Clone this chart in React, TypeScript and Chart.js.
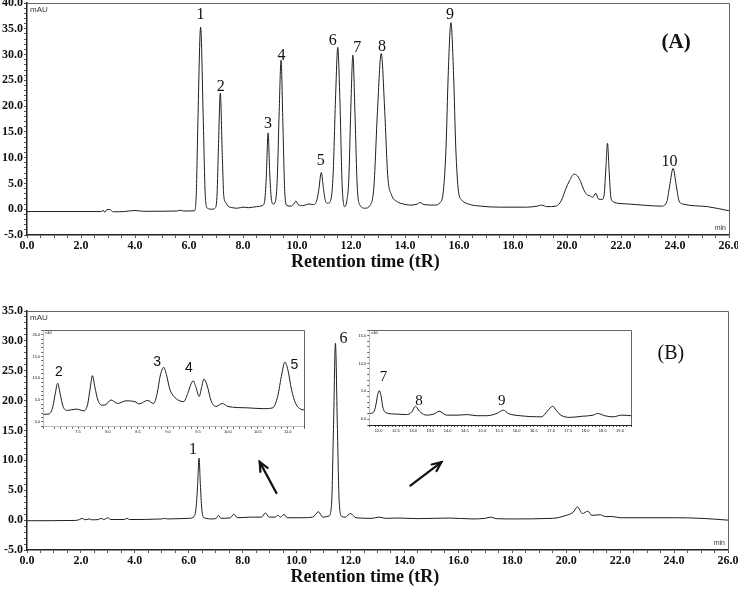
import React, { useEffect, useRef } from 'react';
import { Chart, registerables } from 'chart.js';

Chart.register(...registerables);

// ---------- (A) standard mixture ----------
const timeA = [0, 2.0, 2.75, 2.82, 2.88, 2.95, 3.05, 3.2, 3.6, 4.0, 4.3, 5.55, 5.68, 5.8, 6.2,
  6.27, 6.33, 6.43, 6.53, 6.6, 6.68, 6.85,
  6.98, 7.04, 7.09, 7.16, 7.23, 7.29, 7.36, 7.45, 7.6,
  7.8, 8.0, 8.2, 8.5, 8.72,
  8.8, 8.86, 8.93, 8.99, 9.05, 9.12,
  9.2, 9.27, 9.34, 9.41, 9.48, 9.55, 9.63,
  9.78, 9.88, 9.96, 10.04, 10.2, 10.45, 10.6, 10.72,
  10.8, 10.9, 10.98, 11.06, 11.14,
  11.26, 11.34, 11.43, 11.51, 11.59, 11.67, 11.76,
  11.84, 11.92, 11.99, 12.07, 12.15, 12.23, 12.33, 12.52,
  12.7, 12.85, 12.98, 13.12, 13.25, 13.36, 13.5, 13.7,
  13.95, 14.2, 14.45, 14.56, 14.7, 15.1, 15.3,
  15.42, 15.52, 15.6, 15.7, 15.8, 15.88, 15.98, 16.1, 16.35, 16.8,
  17.5, 18.5, 18.9, 19.06, 19.25, 19.6, 19.8, 19.95, 20.1, 20.26, 20.38, 20.5, 20.62, 20.72, 20.85, 20.95, 21.07, 21.16, 21.3,
  21.38, 21.44, 21.5, 21.56, 21.62, 21.7, 22.0, 22.3, 23.5, 23.7, 23.8, 23.93, 24.05, 24.15, 24.3, 25.2, 26.0];
const signalA = [-0.45, -0.45, -0.45, -0.2, -0.6, -0.1, -0.05, -0.5, -0.45, -0.25, -0.4, -0.35, -0.2, -0.35, -0.3,
  3, 17, 35.3, 17, 3, 0.2, 0.0,
  0.3, 3, 12, 22.5, 11, 2.5, 1.3, 0.6, 0.3,
  0.2, 0.4, 0.3, 0.5, 0.7,
  1.5, 6, 14.8, 7, 2, 1.0,
  1.5, 6, 19, 28.9, 16, 3, 0.7,
  0.6, 1.0, 1.6, 0.9, 0.7, 1.0, 0.9, 1.5,
  3.5, 7.1, 4, 1.5, 1.15,
  2, 7, 22, 31.4, 21, 5, 0.5,
  1.5, 6, 19, 29.9, 18, 4.5, 0.8, 0.2,
  0.7, 4.5, 19, 30.2, 19, 6.5, 2.8, 1.5,
  1.0, 0.8, 1.0, 1.3, 0.9, 0.8, 1.3,
  3.5, 12, 26, 36.2, 26, 12, 3.5, 1.8, 1.0, 0.6,
  0.4, 0.4, 0.6, 0.8, 0.5, 0.6, 1.8, 3.9, 5.6, 6.8, 6.5, 5.4, 3.8, 2.9, 2.6, 2.3, 3.1, 2.0, 1.9,
  3, 8, 12.8, 7.5, 2.5, 1.5, 1.1, 1.0, 0.6, 1.5, 4.5, 7.9, 4.5, 1.6, 1.0, 0.5, -0.3];
const peakNamesA = ['1', '2', '3', '4', '5', '6', '7', '8', '9', '10'];
const peakLabelTimeA = [6.43, 7.18, 8.93, 9.43, 10.88, 11.32, 12.23, 13.15, 15.67, 23.8];
const peakLabelSignalA = [37.7, 23.65, 16.5, 29.7, 9.4, 32.7, 31.3, 31.5, 37.7, 9.2];

// ---------- (B) sample ----------
const timeB = [0, 1.8, 1.95, 2.05, 2.15, 2.3, 2.4, 2.65, 2.75, 2.85, 3.0, 3.1, 3.6, 3.7, 3.8, 5.0, 5.1, 5.2, 6.0,
  6.2, 6.28, 6.33, 6.38, 6.43, 6.48, 6.56,
  6.9, 7.02, 7.1, 7.2, 7.55, 7.67, 7.8, 8.3, 8.7, 8.84, 8.98, 9.2, 9.31, 9.4, 9.53, 9.65, 10.2, 10.6, 10.81, 10.97,
  11.2, 11.3, 11.37, 11.44, 11.51, 11.58, 11.68,
  11.8, 12.0, 12.2, 12.8, 13.05, 13.3, 13.75, 14.5, 15.67, 16.5, 17.0, 17.2, 17.4, 18.0, 19.5,
  20.0, 20.25, 20.42, 20.6, 20.8, 20.95, 21.26, 21.45, 21.7, 22.0, 24.0, 25.0, 26.0];
const signalB = [-0.1, -0.05, 0.1, 0.3, 0.05, 0.2, 0.05, 0.1, 0.3, 0.1, 0.4, 0.1, 0.1, 0.3, 0.1, 0.2, 0.3, 0.2, 0.3,
  0.6, 2.5, 6, 10.4, 6, 2, 0.4,
  0.2, 0.3, 0.8, 0.3, 0.4, 1.0, 0.4, 0.5, 0.5, 1.2, 0.5, 0.5, 0.8, 0.5, 0.95, 0.4, 0.4, 0.5, 1.4, 0.5,
  0.7, 3, 16, 29.6, 16, 3, 0.6,
  0.5, 1.1, 0.4, 0.3, 0.5, 0.3, 0.35, 0.25, 0.35, 0.2, 0.3, 0.5, 0.25, 0.2, 0.3,
  0.8, 1.3, 2.2, 1.1, 1.5, 0.8, 0.9, 0.6, 0.6, 0.4, 0.4, 0.3, 0.0];
const peakNamesB = ['1', '6'];
const peakLabelTimeB = [6.16, 11.74];
const peakLabelSignalB = [11.8, 30.3];
const arrowFromTime = [9.25, 14.22];
const arrowFromSignal = [4.53, 5.78];
const arrowToTime = [8.63, 15.37];
const arrowToSignal = [9.75, 9.69];

// ---------- inset 1 (peaks 2-5 of sample) ----------
const timeInset1 = [6.92, 7.02, 7.08, 7.12, 7.16, 7.2, 7.25, 7.32, 7.47, 7.6, 7.66, 7.7, 7.74, 7.78, 7.83, 7.9, 7.96,
  8.05, 8.16, 8.3, 8.45, 8.52, 8.66, 8.76, 8.82, 8.87, 8.93, 8.98, 9.03, 9.1, 9.18, 9.26, 9.33, 9.38, 9.42, 9.47,
  9.52, 9.56, 9.6, 9.65, 9.72, 9.8, 9.91, 10.0, 10.31, 10.6, 10.75, 10.83, 10.9, 10.95, 11.0, 11.06, 11.13, 11.2, 11.27];
const signalInset1 = [1.7, 1.8, 3.5, 6.5, 8.85, 6.5, 3.5, 2.6, 2.9, 2.5, 4, 7.5, 10.6, 8, 5, 3.8, 3.9,
  5.0, 4.2, 4.8, 4.6, 4.1, 4.9, 4.2, 6.5, 10.5, 12.5, 10.5, 7.5, 5.8, 4.9, 4.6, 6.5, 8.5, 9.4, 7.8,
  5.8, 7.8, 9.8, 8.5, 4.8, 3.5, 4.2, 3.5, 3.2, 3.0, 3.2, 5.8, 11, 13.7, 12, 7.5, 4.2, 3.0, 2.7];
const peakNamesInset1 = ['2', '3', '4', '5'];
const peakLabelTimeInset1 = [7.18, 8.82, 9.35, 11.11];
const peakLabelSignalInset1 = [11.5, 13.7, 12.3, 12.9];

// ---------- inset 2 (peaks 7-9 of sample) ----------
const timeInset2 = [11.73, 11.85, 11.92, 11.97, 12.02, 12.07, 12.12, 12.23, 12.5, 12.81, 12.96, 13.07, 13.16, 13.22,
  13.39, 13.6, 13.76, 13.97, 14.3, 14.57, 14.85, 15.13, 15.43, 15.62, 15.76, 16.1, 16.73, 16.89, 17.05, 17.15,
  17.26, 17.55, 17.9, 18.22, 18.35, 18.56, 18.8, 19.05, 19.32];
const signalInset2 = [1.0, 1.2, 2.5, 4.3, 5.1, 4.2, 2.2, 1.1, 0.9, 0.8, 1.25, 2.3, 1.6, 1.2,
  0.7, 0.9, 1.4, 0.7, 0.7, 0.8, 0.6, 0.6, 1.0, 1.6, 1.0, 0.6, 0.4, 1.4, 2.3, 1.6,
  0.8, 0.3, 0.5, 0.7, 1.0, 0.6, 0.4, 0.7, 0.6];
const peakNamesInset2 = ['7', '8', '9'];
const peakLabelTimeInset2 = [12.14, 13.17, 15.57];
const peakLabelSignalInset2 = [7.55, 3.2, 3.2];

const SERIF = '"Liberation Serif", "Times New Roman", serif';
const SANS = '"Liberation Sans", Arial, sans-serif';

const isMult = (v: number, m: number) => Math.abs(v / m - Math.round(v / m)) < 1e-6;

interface LabelSet { names: string[]; t: number[]; v: number[]; font: string; }
interface Cfg {
  canvas: HTMLCanvasElement;
  time: number[]; signal: number[];
  xMin: number; xMax: number; yMin: number; yMax: number;
  xStep: number; yStep: number; xEvery: number; yEvery: number;
  pad: { left: number; top: number; right: number; bottom: number };
  yWidth: number; xHeight: number;
  tickFont: any; tickLen: number; tickPad: number;
  axisWidth: number;
  labels: LabelSet[];
  notes?: { text: string; t: number; v: number; font: string }[];
  unit?: { font: string; dx: number; dy: number };
  minText?: { font: string };
  arrows?: boolean;
  title?: string; titleGap?: number;
  fillArea?: boolean;
}

function makeChart(c: Cfg) {
  const decor = {
    id: 'decor',
    beforeDatasetsDraw(chart: any) {
      if (!c.fillArea) return;
      const { ctx, chartArea: a } = chart;
      ctx.save();
      ctx.fillStyle = '#ffffff';
      ctx.fillRect(a.left, a.top, a.right - a.left, a.bottom - a.top);
      ctx.restore();
    },
    afterDraw(chart: any) {
      const { ctx, chartArea: a, scales } = chart;
      const xs = scales.x, ys = scales.y;
      ctx.save();
      ctx.strokeStyle = '#666';
      ctx.lineWidth = 1;
      ctx.beginPath();
      ctx.moveTo(a.left, Math.round(a.top) + 0.5);
      ctx.lineTo(Math.round(a.right) + 0.5, Math.round(a.top) + 0.5);
      ctx.lineTo(Math.round(a.right) + 0.5, a.bottom);
      ctx.stroke();
      ctx.fillStyle = '#111';
      ctx.textAlign = 'center';
      ctx.textBaseline = 'middle';
      for (const g of c.labels) {
        ctx.font = g.font;
        g.names.forEach((n, i) => ctx.fillText(n, xs.getPixelForValue(g.t[i]), ys.getPixelForValue(g.v[i])));
      }
      (c.notes || []).forEach((n) => {
        ctx.font = n.font;
        ctx.fillText(n.text, xs.getPixelForValue(n.t), ys.getPixelForValue(n.v));
      });
      if (c.unit) {
        ctx.font = c.unit.font;
        ctx.textAlign = 'left';
        ctx.textBaseline = 'top';
        ctx.fillStyle = '#333';
        ctx.fillText('mAU', a.left + c.unit.dx, a.top + c.unit.dy);
      }
      if (c.minText) {
        ctx.font = c.minText.font;
        ctx.textAlign = 'right';
        ctx.textBaseline = 'bottom';
        ctx.fillStyle = '#333';
        ctx.fillText('min', a.right - 3, a.bottom - 3);
      }
      if (c.arrows) {
        ctx.strokeStyle = '#111';
        ctx.lineWidth = 2.2;
        ctx.lineCap = 'round';
        arrowFromTime.forEach((_, i) => {
          const x1 = xs.getPixelForValue(arrowFromTime[i]);
          const y1 = ys.getPixelForValue(arrowFromSignal[i]);
          const x2 = xs.getPixelForValue(arrowToTime[i]);
          const y2 = ys.getPixelForValue(arrowToSignal[i]);
          const ang = Math.atan2(y2 - y1, x2 - x1);
          const h = 10;
          ctx.beginPath();
          ctx.moveTo(x1, y1);
          ctx.lineTo(x2, y2);
          ctx.stroke();
          ctx.beginPath();
          ctx.moveTo(x2 - h * Math.cos(ang - 0.42), y2 - h * Math.sin(ang - 0.42));
          ctx.lineTo(x2, y2);
          ctx.lineTo(x2 - h * Math.cos(ang + 0.42), y2 - h * Math.sin(ang + 0.42));
          ctx.stroke();
        });
      }
      if (c.title) {
        ctx.font = 'bold 18px ' + SERIF;
        ctx.fillStyle = '#111';
        ctx.textAlign = 'center';
        ctx.textBaseline = 'middle';
        ctx.fillText(c.title, a.left + (a.right - a.left) * 0.482, a.bottom + (c.titleGap || 27));
      }
      ctx.restore();
    },
  };
  return new Chart(c.canvas, {
    type: 'line',
    data: {
      datasets: [{
        data: c.time.map((t, i) => ({ x: t, y: c.signal[i] })),
        borderColor: '#1e1e1e',
        borderWidth: 1,
        pointRadius: 0,
        cubicInterpolationMode: 'monotone',
        fill: false,
      }],
    },
    options: {
      animation: false,
      responsive: false,
      maintainAspectRatio: false,
      events: [],
      layout: { padding: c.pad },
      plugins: { legend: { display: false }, tooltip: { enabled: false }, title: { display: false } },
      scales: {
        x: {
          type: 'linear', min: c.xMin, max: c.xMax,
          afterFit: (s: any) => { s.height = c.xHeight; s.paddingLeft = 0; s.paddingRight = 0; },
          ticks: {
            stepSize: c.xStep, autoSkip: false, maxRotation: 0, minRotation: 0,
            padding: c.tickPad, font: c.tickFont, color: '#111',
            callback: (v: any) => (isMult(Number(v), c.xEvery) ? Number(v).toFixed(1) : ''),
          },
          grid: { drawOnChartArea: false, drawTicks: true, tickLength: c.tickLen, color: '#555', lineWidth: 1 },
          border: { display: true, color: '#222', width: c.axisWidth },
        },
        y: {
          type: 'linear', min: c.yMin, max: c.yMax,
          afterFit: (s: any) => { s.width = c.yWidth; s.paddingTop = 0; s.paddingBottom = 0; },
          ticks: {
            stepSize: c.yStep, autoSkip: false, padding: c.tickPad, font: c.tickFont, color: '#111',
            callback: (v: any) => (isMult(Number(v), c.yEvery) ? Number(v).toFixed(1) : ''),
          },
          grid: { drawOnChartArea: false, drawTicks: true, tickLength: c.tickLen, color: '#555', lineWidth: 1 },
          border: { display: true, color: '#222', width: c.axisWidth },
        },
      },
    } as any,
    plugins: [decor],
  });
}

export default function App() {
  const refA = useRef<HTMLCanvasElement>(null);
  const refB = useRef<HTMLCanvasElement>(null);
  const refI1 = useRef<HTMLCanvasElement>(null);
  const refI2 = useRef<HTMLCanvasElement>(null);

  useEffect(() => {
    const mainTick = { family: SERIF, size: 12, weight: 'bold' };
    const insetTick = { family: SANS, size: 4 };
    const charts: Chart[] = [];
    charts.push(makeChart({
      canvas: refA.current!, time: timeA, signal: signalA,
      xMin: 0, xMax: 26, yMin: -5, yMax: 40, xStep: 0.5, yStep: 1, xEvery: 2, yEvery: 5,
      pad: { left: 0, top: 3, right: 9, bottom: 0 }, yWidth: 27, xHeight: 40,
      tickFont: mainTick, tickLen: 3, tickPad: 1, axisWidth: 1.5,
      labels: [{ names: peakNamesA, t: peakLabelTimeA, v: peakLabelSignalA, font: '16px ' + SERIF }],
      notes: [{ text: '(A)', t: 24.04, v: 32.3, font: 'bold 21px ' + SERIF }],
      unit: { font: '8px ' + SANS, dx: 3, dy: 3 }, minText: { font: '7px ' + SANS },
      title: 'Retention time (tR)', titleGap: 27,
    }));
    charts.push(makeChart({
      canvas: refB.current!, time: timeB, signal: signalB,
      xMin: 0, xMax: 26, yMin: -5, yMax: 35, xStep: 0.5, yStep: 1, xEvery: 2, yEvery: 5,
      pad: { left: 0, top: 13, right: 10, bottom: 0 }, yWidth: 27, xHeight: 39,
      tickFont: mainTick, tickLen: 3, tickPad: 1, axisWidth: 1.5,
      labels: [{ names: peakNamesB, t: peakLabelTimeB, v: peakLabelSignalB, font: '16px ' + SERIF }],
      notes: [{ text: '(B)', t: 23.88, v: 27.9, font: '20px ' + SERIF }],
      unit: { font: '8px ' + SANS, dx: 3, dy: 3 }, minText: { font: '7px ' + SANS },
      arrows: true,
      title: 'Retention time (tR)', titleGap: 27,
    }));
    charts.push(makeChart({
      canvas: refI1.current!, time: timeInset1, signal: signalInset1,
      xMin: 6.92, xMax: 11.27, yMin: -1.15, yMax: 21.1, xStep: 0.1, yStep: 1, xEvery: 0.5, yEvery: 5,
      pad: { left: 0, top: 4, right: 4, bottom: 0 }, yWidth: 15.3, xHeight: 11.3,
      tickFont: insetTick, tickLen: 2, tickPad: 1, axisWidth: 1,
      labels: [{ names: peakNamesInset1, t: peakLabelTimeInset1, v: peakLabelSignalInset1, font: '14px ' + SANS }],
      unit: { font: '3px ' + SANS, dx: 2, dy: 2 },
      fillArea: true,
    }));
    charts.push(makeChart({
      canvas: refI2.current!, time: timeInset2, signal: signalInset2,
      xMin: 11.73, xMax: 19.32, yMin: -1.07, yMax: 16, xStep: 0.1, yStep: 1, xEvery: 0.5, yEvery: 5,
      pad: { left: 0, top: 4, right: 5, bottom: 0 }, yWidth: 15.3, xHeight: 13,
      tickFont: insetTick, tickLen: 2, tickPad: 1, axisWidth: 1,
      labels: [{ names: peakNamesInset2, t: peakLabelTimeInset2, v: peakLabelSignalInset2, font: '15px ' + SERIF }],
      unit: { font: '3px ' + SANS, dx: 2, dy: 2 },
      fillArea: true,
    }));
    return () => charts.forEach((ch) => ch.destroy());
  }, []);

  const abs = (left: number, top: number, w: number, h: number): React.CSSProperties => ({
    position: 'absolute', left, top, width: w, height: h,
  });

  return (
    <div style={{ position: 'absolute', left: 0, top: 0, width: 738, height: 589, background: '#ffffff', overflow: 'hidden' }}>
      <canvas ref={refA} width={738} height={275} style={abs(0, 0, 738, 275)} />
      <canvas ref={refB} width={738} height={291} style={abs(0, 298, 738, 291)} />
      <canvas ref={refI1} width={280} height={112} style={abs(28, 326, 280, 112)} />
      <canvas ref={refI2} width={282} height={112} style={abs(354, 326, 282, 112)} />
    </div>
  );
}
